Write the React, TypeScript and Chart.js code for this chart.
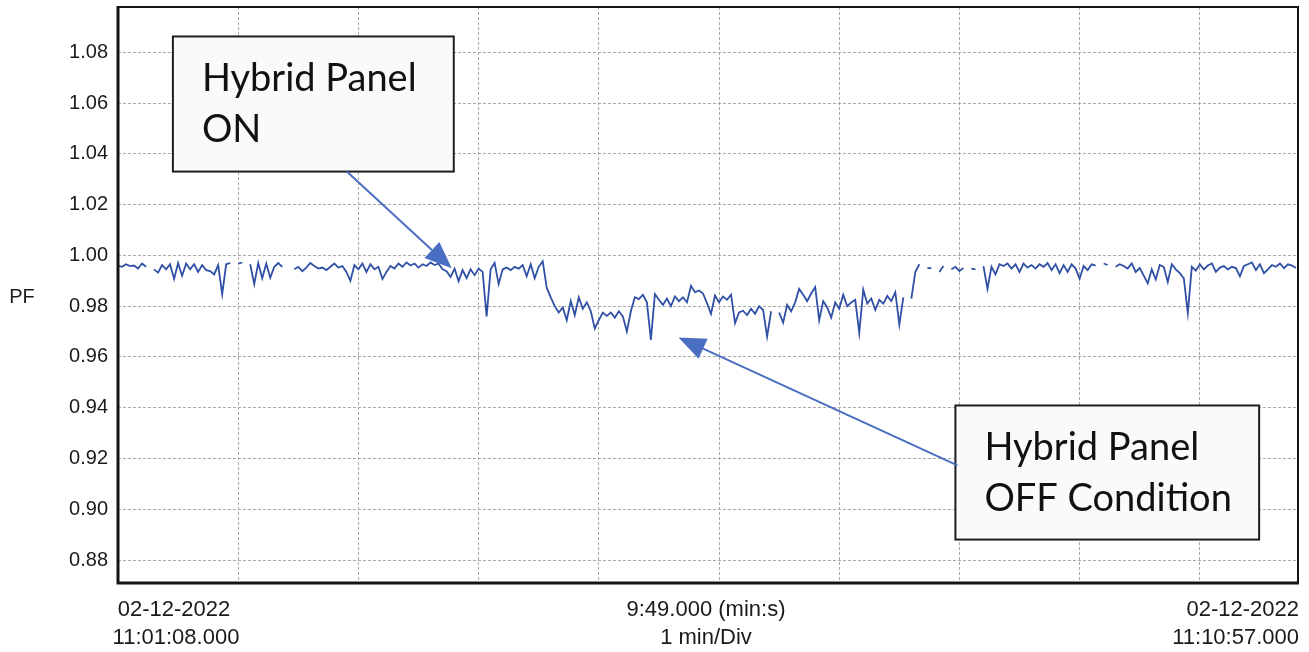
import React, { useEffect, useRef } from "react";
import { Chart, registerables } from "chart.js";

Chart.register(...registerables);

// ---------- data ----------
const SAMPLE_SECONDS = 2;
const DURATION_SECONDS = 589;

const PF: (number | null)[] = [
  0.996, 0.9955, 0.9965, 0.9958, 0.996, 0.9948, 0.9968, 0.9955, null, 0.9945,
  0.9932, 0.9962, 0.9945, 0.9965, 0.9907, 0.997, 0.992, 0.9968, 0.9945, 0.9965,
  0.9935, 0.9962, 0.9942, 0.9938, 0.9925, 0.9962, 0.9847, 0.9965, 0.997, null,
  0.9967, 0.9972, null, 0.9965, 0.9887, 0.997, 0.991, 0.9968, 0.9912, 0.9955,
  0.997, 0.9955, null, null, 0.9945, 0.9955, 0.9938, 0.9952, 0.997, 0.9958,
  0.9948, 0.9952, 0.9942, 0.9955, 0.9968, 0.9952, 0.9958, 0.9935, 0.99, 0.9962,
  0.9945, 0.9968, 0.9935, 0.9965, 0.9945, 0.9955, 0.9907, 0.9935, 0.9958, 0.9948,
  0.9968, 0.9955, 0.9972, 0.996, 0.9968, 0.9952, 0.9965, 0.9958, 0.9972, 0.9962,
  0.9968, 0.9945, 0.9938, 0.9915, 0.9948, 0.9898, 0.9942, 0.991, 0.9945, 0.9922,
  0.9948, 0.9935, 0.976, 0.9945, 0.997, 0.9887, 0.9945, 0.9952, 0.9942, 0.9955,
  0.9948, 0.9962, 0.9918, 0.9965, 0.991, 0.9955, 0.9977, 0.9873, 0.9835, 0.98,
  0.9775, 0.9795, 0.9745, 0.982, 0.9765, 0.9835, 0.979, 0.9815, 0.978, 0.9712,
  0.9745, 0.9775, 0.9762, 0.9775, 0.9755, 0.978, 0.976, 0.97, 0.978, 0.9835,
  0.9828, 0.9845, 0.9815, 0.9667, 0.9848, 0.9825, 0.9805, 0.983, 0.98, 0.9838,
  0.982, 0.9835, 0.9815, 0.988, 0.9855, 0.9862, 0.985, 0.9812, 0.977, 0.9842,
  0.9815, 0.9838, 0.9825, 0.9845, 0.9733, 0.9775, 0.9782, 0.9765, 0.979, 0.977,
  0.98, 0.9785, 0.968, 0.978, null, 0.9775, 0.9735, 0.9805, 0.978, 0.9815,
  0.9868, 0.9845, 0.982, 0.985, 0.9875, 0.9745, 0.982, 0.9795, 0.9755, 0.9815,
  0.979, 0.9845, 0.98, 0.9815, 0.9825, 0.9695, 0.9865, 0.981, 0.983, 0.9785,
  0.9825, 0.981, 0.984, 0.982, 0.9855, 0.9728, 0.9835, null, 0.983, 0.9935,
  0.9965, null, 0.995, 0.995, null, 0.9935, 0.9958, null, 0.9945, 0.9955,
  0.9938, 0.995, null, 0.9948, 0.9945, null, 0.9958, 0.9868, 0.9955, 0.9925,
  0.9965, 0.9958, 0.9968, 0.9948, 0.9965, 0.9935, 0.9968, 0.9952, 0.9962, 0.9948,
  0.9965, 0.9955, 0.997, 0.9942, 0.9965, 0.993, 0.9962, 0.9935, 0.9965, 0.9948,
  0.9908, 0.9958, 0.9942, 0.9965, 0.996, null, 0.9968, 0.9962, null, 0.9955,
  0.9965, 0.9958, 0.9948, 0.9968, 0.9935, 0.995, 0.992, 0.989, 0.9945, 0.9905,
  0.9962, 0.9955, 0.9895, 0.9965, 0.9945, 0.993, 0.991, 0.9773, 0.9955, 0.994,
  0.9965, 0.9945, 0.996, 0.9968, 0.9935, 0.9952, 0.9958, 0.9945, 0.9955, 0.995,
  0.9918, 0.9958, 0.9965, 0.9972, 0.9942, 0.9965, 0.993, 0.9945, 0.9962, 0.9955,
  0.9968, 0.995, 0.9965, 0.996, 0.995,
];

const Y_TICKS = [0.88, 0.9, 0.92, 0.94, 0.96, 0.98, 1.0, 1.02, 1.04, 1.06, 1.08];
const X_GRID_SECONDS = [0, 60, 120, 180, 240, 300, 360, 420, 480, 540];
const Y_MIN = 0.871;
const Y_MAX = 1.0978;

const Y_TITLE = "PF";
const START_LABEL = ["02-12-2022", "11:01:08.000"];
const MID_LABEL = ["9:49.000 (min:s)", "1 min/Div"];
const END_LABEL = ["02-12-2022", "11:10:57.000"];

// annotation callouts (data coordinates: seconds, PF)
const NOTES = [
  {
    lines: ["Hybrid Panel", "ON"],
    box: { x0: 27.4, x1: 167.6, yTop: 1.0862, yBottom: 1.033 },
    arrowFrom: { x: 114.2, y: 1.033 },
    arrowTo: { x: 166.6, y: 0.9949 },
  },
  {
    lines: ["Hybrid Panel", "OFF Condition"],
    box: { x0: 418.0, x1: 569.6, yTop: 0.9409, yBottom: 0.8881 },
    arrowFrom: { x: 419.0, y: 0.9173 },
    arrowTo: { x: 279.8, y: 0.9677 },
  },
];

const LINE_COLOR = "#3050a6";
const ARROW_COLOR = "#4a6ec2";
const TEXT_COLOR = "#1a1a1a";
const AXIS_FONT = '"Liberation Sans", Arial, sans-serif';

const overlayPlugin = {
  id: "overlay",
  afterDraw(chart: any) {
    const { ctx, chartArea, scales } = chart;
    const xs = scales.x;
    const ys = scales.y;
    const { left, right, top, bottom } = chartArea;
    ctx.save();

    // frame
    ctx.strokeStyle = "#141414";
    ctx.lineWidth = 2;
    ctx.beginPath();
    ctx.moveTo(left, top);
    ctx.lineTo(right, top);
    ctx.lineTo(right, bottom);
    ctx.stroke();
    ctx.lineWidth = 3;
    ctx.beginPath();
    ctx.moveTo(left, top - 1);
    ctx.lineTo(left, bottom);
    ctx.lineTo(right + 1, bottom);
    ctx.stroke();

    // y title
    ctx.fillStyle = TEXT_COLOR;
    ctx.font = `20px ${AXIS_FONT}`;
    ctx.textAlign = "center";
    ctx.textBaseline = "middle";
    ctx.fillText(Y_TITLE, 22, (top + bottom) / 2 + 2);

    // bottom labels
    ctx.font = `22px ${AXIS_FONT}`;
    ctx.textBaseline = "alphabetic";
    const b1 = bottom + 33;
    const b2 = bottom + 61;
    ctx.textAlign = "center";
    ctx.fillText(START_LABEL[0], left + 56, b1);
    ctx.fillText(START_LABEL[1], left + 58, b2);
    ctx.fillText(MID_LABEL[0], (left + right) / 2 - 2, b1);
    ctx.fillText(MID_LABEL[1], (left + right) / 2 - 2, b2);
    ctx.textAlign = "right";
    ctx.fillText(END_LABEL[0], right + 1, b1);
    ctx.fillText(END_LABEL[1], right + 1, b2);

    // callouts
    for (const n of NOTES) {
      const bx0 = xs.getPixelForValue(n.box.x0);
      const bx1 = xs.getPixelForValue(n.box.x1);
      const by0 = ys.getPixelForValue(n.box.yTop);
      const by1 = ys.getPixelForValue(n.box.yBottom);
      ctx.fillStyle = "#fafafa";
      ctx.fillRect(bx0, by0, bx1 - bx0, by1 - by0);
      ctx.strokeStyle = "#1e1e1e";
      ctx.lineWidth = 2;
      ctx.strokeRect(bx0, by0, bx1 - bx0, by1 - by0);
      ctx.fillStyle = "#111";
      ctx.font = '38px Lato, "Open Sans", sans-serif';
      ctx.textAlign = "left";
      ctx.textBaseline = "alphabetic";
      ctx.fillText(n.lines[0], bx0 + 29, by0 + 55);
      ctx.fillText(n.lines[1], bx0 + 29, by0 + 106);

      // arrow
      const ax0 = xs.getPixelForValue(n.arrowFrom.x);
      const ay0 = ys.getPixelForValue(n.arrowFrom.y);
      const ax1 = xs.getPixelForValue(n.arrowTo.x);
      const ay1 = ys.getPixelForValue(n.arrowTo.y);
      const dx = ax1 - ax0;
      const dy = ay1 - ay0;
      const len = Math.hypot(dx, dy);
      const ux = dx / len;
      const uy = dy / len;
      const headLen = 27;
      const headHalf = 11;
      const bxh = ax1 - ux * headLen;
      const byh = ay1 - uy * headLen;
      ctx.strokeStyle = ARROW_COLOR;
      ctx.fillStyle = ARROW_COLOR;
      ctx.lineWidth = 2;
      ctx.beginPath();
      ctx.moveTo(ax0, ay0);
      ctx.lineTo(bxh, byh);
      ctx.stroke();
      ctx.beginPath();
      ctx.moveTo(ax1, ay1);
      ctx.lineTo(bxh - uy * headHalf, byh + ux * headHalf);
      ctx.lineTo(bxh + uy * headHalf, byh - ux * headHalf);
      ctx.closePath();
      ctx.fill();
    }
    ctx.restore();
  },
};

export default function App() {
  const canvasRef = useRef<HTMLCanvasElement | null>(null);

  useEffect(() => {
    document.body.style.margin = "0";
    document.body.style.background = "#ffffff";
    const canvas = canvasRef.current;
    if (!canvas) return;
    const points = PF.map((v, i) => ({ x: i * SAMPLE_SECONDS, y: v }));
    const chart = new Chart(canvas, {
      type: "line",
      data: {
        datasets: [
          {
            label: Y_TITLE,
            data: points as any,
            borderColor: LINE_COLOR,
            borderWidth: 1.8,
            pointRadius: 0,
            tension: 0,
            spanGaps: false,
            fill: false,
          },
        ],
      },
      options: {
        responsive: false,
        animation: false,
        events: [],
        layout: { padding: { top: 7, right: 11, left: 0, bottom: 0 } },
        plugins: {
          legend: { display: false },
          tooltip: { enabled: false },
          title: { display: false },
        },
        scales: {
          x: {
            type: "linear",
            min: 0,
            max: DURATION_SECONDS,
            afterBuildTicks: (scale: any) => {
              scale.ticks = X_GRID_SECONDS.map((v) => ({ value: v }));
            },
            afterFit: (scale: any) => {
              scale.height = 69;
              scale.paddingLeft = 0;
              scale.paddingRight = 0;
            },
            ticks: { display: false },
            grid: { color: "#a9a9a9", lineWidth: 1, drawTicks: false },
            border: { display: false, dash: [3, 2] },
          },
          y: {
            type: "linear",
            min: Y_MIN,
            max: Y_MAX,
            afterBuildTicks: (scale: any) => {
              scale.ticks = Y_TICKS.map((v) => ({ value: v }));
            },
            afterFit: (scale: any) => {
              scale.width = 118;
              scale.paddingTop = 0;
              scale.paddingBottom = 0;
            },
            ticks: {
              padding: 10,
              color: TEXT_COLOR,
              font: { family: AXIS_FONT, size: 20 },
              callback: (v: any) => Number(v).toFixed(2),
            },
            grid: { color: "#a9a9a9", lineWidth: 1, drawTicks: false },
            border: { display: false, dash: [3, 2] },
          },
        },
      },
      plugins: [overlayPlugin],
    });
    return () => chart.destroy();
  }, []);

  return (
    <div style={{ position: "relative", width: 1309, height: 652, background: "#fff" }}>
      <canvas ref={canvasRef} width={1309} height={652} style={{ display: "block" }} />
    </div>
  );
}
